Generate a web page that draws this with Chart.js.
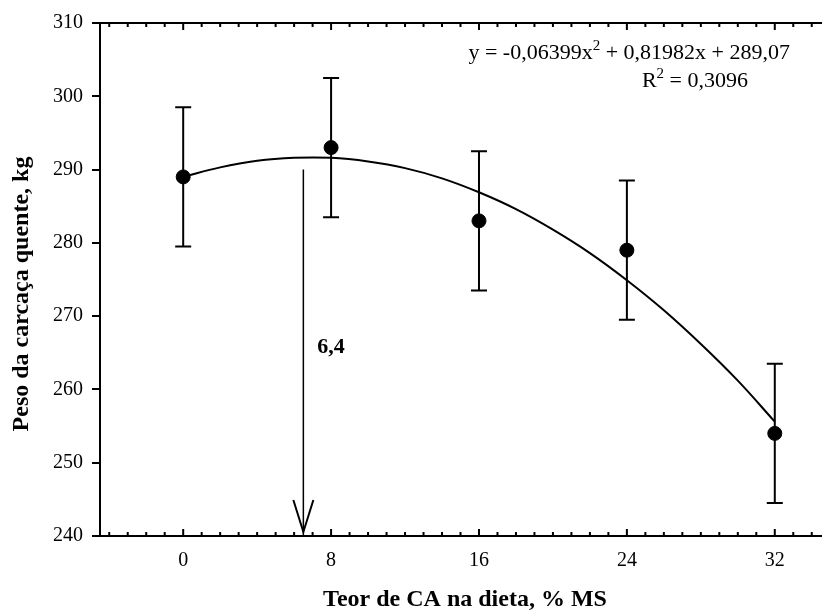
<!DOCTYPE html>
<html>
<head>
<meta charset="utf-8">
<script src="https://cdn.jsdelivr.net/npm/chart.js@4.4.1/dist/chart.umd.min.js"></script>
<style>
html, body { margin: 0; padding: 0; background: #fff; }
</style>
</head>
<body>
<canvas id="c" width="822" height="614"></canvas>
<script>
// measured means and error bars
const doses = [0, 8, 16, 24, 32];
const weights = [289, 293, 283, 279, 254];
const errors = [9.5, 9.5, 9.5, 9.5, 9.5];

// fitted curve as drawn in the figure
const curveX = [0, 2, 4, 6, 8, 10, 12, 14, 16, 18, 20, 22, 24, 26, 28, 30, 32];
const curveY = [289.0, 290.3, 291.2, 291.6, 291.6, 291.1, 290.2, 288.8, 286.9,
                284.6, 281.8, 278.6, 274.9, 270.8, 266.2, 261.2, 255.6];

// axes
const xTickValues = [-4, -3, -2, -1, 0, 1, 2, 3, 4, 5, 6, 7, 8, 9, 10, 11, 12,
                     13, 14, 15, 16, 17, 18, 19, 20, 21, 22, 23, 24, 25, 26, 27,
                     28, 29, 30, 31, 32, 33, 34];
const xLabelValues = [0, 8, 16, 24, 32];
const yTickValues = [240, 250, 260, 270, 280, 290, 300, 310];

// optimum arrow
const optimumX = 6.5;
const arrowTop = 290;
const optimumLabel = "6,4";

const serif = "'Liberation Serif', 'Times New Roman', serif";

function drawSup(ctx, parts, right, baseline) {
    const big = "22px " + serif;
    const small = "15px " + serif;
    let total = 0;
    parts.forEach(p => {
        ctx.font = p[1] ? small : big;
        total += ctx.measureText(p[0]).width;
    });
    let x = right - total;
    ctx.textAlign = "left";
    ctx.textBaseline = "alphabetic";
    parts.forEach(p => {
        ctx.font = p[1] ? small : big;
        ctx.fillText(p[0], x, p[1] ? baseline - 9 : baseline);
        x += ctx.measureText(p[0]).width;
    });
}

const errorBars = {
    id: "errorBars",
    beforeDatasetsDraw(chart) {
        const ctx = chart.ctx;
        const xs = chart.scales.x;
        const ys = chart.scales.y;
        ctx.save();
        ctx.strokeStyle = "#000";
        ctx.lineWidth = 2;
        doses.forEach((d, i) => {
            const px = xs.getPixelForValue(d);
            const hi = ys.getPixelForValue(weights[i] + errors[i]);
            const lo = ys.getPixelForValue(weights[i] - errors[i]);
            ctx.beginPath();
            ctx.moveTo(px, hi); ctx.lineTo(px, lo);
            ctx.moveTo(px - 8, hi); ctx.lineTo(px + 8, hi);
            ctx.moveTo(px - 8, lo); ctx.lineTo(px + 8, lo);
            ctx.stroke();
        });
        ctx.restore();
    }
};

const frame = {
    id: "frame",
    afterDatasetsDraw(chart) {
        const ctx = chart.ctx;
        const area = chart.chartArea;
        const xs = chart.scales.x;
        ctx.save();
        ctx.strokeStyle = "#000";

        // top border
        ctx.lineWidth = 2;
        ctx.beginPath();
        ctx.moveTo(area.left, area.top);
        ctx.lineTo(area.right + 1, area.top);
        ctx.stroke();

        // inward ticks, bottom and top
        xTickValues.forEach(v => {
            const px = xs.getPixelForValue(v);
            const len = xLabelValues.includes(v) ? 7 : 4;
            ctx.beginPath();
            ctx.moveTo(px, area.bottom); ctx.lineTo(px, area.bottom - len);
            ctx.moveTo(px, area.top); ctx.lineTo(px, area.top + len);
            ctx.stroke();
        });

        // arrow head
        const ax = xs.getPixelForValue(optimumX);
        const ay = chart.scales.y.getPixelForValue(240);
        ctx.lineWidth = 2;
        ctx.beginPath();
        ctx.moveTo(ax - 10, ay - 36); ctx.lineTo(ax, ay - 4);
        ctx.lineTo(ax + 10, ay - 36);
        ctx.stroke();

        ctx.fillStyle = "#000";
        ctx.font = "bold 22px " + serif;
        ctx.textAlign = "left";
        ctx.textBaseline = "middle";
        ctx.fillText(optimumLabel, ax + 14, 347);

        // equation
        drawSup(ctx, [["y = -0,06399x", false], ["2", true], [" + 0,81982x + 289,07", false]],
                area.right - 31, area.top + 36);
        drawSup(ctx, [["R", false], ["2", true], [" = 0,3096", false]],
                area.right - 73, area.top + 64);

        // axis titles
        ctx.font = "bold 24px " + serif;
        ctx.textAlign = "center";
        ctx.textBaseline = "middle";
        ctx.fillText("Teor de CA na dieta, % MS", 465, 600);
        ctx.translate(22, 294);
        ctx.rotate(-Math.PI / 2);
        ctx.fillText("Peso da carcaça quente, kg", 0, 0);
        ctx.restore();
    }
};

new Chart(document.getElementById("c"), {
    data: {
        datasets: [
            {
                type: "line",
                data: curveX.map((x, i) => ({ x: x, y: curveY[i] })),
                borderColor: "#000",
                borderWidth: 2,
                pointRadius: 0,
                tension: 0.4,
                fill: false
            },
            {
                type: "line",
                data: [{ x: optimumX, y: arrowTop }, { x: optimumX, y: 240 }],
                borderColor: "#000",
                borderWidth: 1.5,
                pointRadius: 0,
                fill: false
            },
            {
                type: "scatter",
                data: doses.map((d, i) => ({ x: d, y: weights[i] })),
                pointRadius: 7,
                pointHoverRadius: 7,
                backgroundColor: "#000",
                borderColor: "#000"
            }
        ]
    },
    options: {
        responsive: false,
        animation: false,
        devicePixelRatio: 1,
        layout: {
            autoPadding: false,
            padding: { top: 23, right: 1, left: 0, bottom: 0 }
        },
        plugins: {
            legend: { display: false },
            tooltip: { enabled: false }
        },
        scales: {
            x: {
                type: "linear",
                min: -4.5,
                max: 34.5,
                afterBuildTicks: s => { s.ticks = xTickValues.map(v => ({ value: v })); },
                afterFit: s => { s.height = 78; },
                ticks: {
                    autoSkip: false,
                    maxRotation: 0,
                    color: "#000",
                    padding: 5,
                    font: { family: serif, size: 20 },
                    callback: v => xLabelValues.includes(v) ? String(v) : ""
                },
                grid: { display: false },
                border: { display: true, color: "#000", width: 2 }
            },
            y: {
                type: "linear",
                min: 240,
                max: 310,
                afterBuildTicks: s => { s.ticks = yTickValues.map(v => ({ value: v })); },
                afterFit: s => { s.width = 100; },
                ticks: {
                    color: "#000",
                    padding: 9,
                    font: { family: serif, size: 20 }
                },
                grid: {
                    drawOnChartArea: false,
                    drawTicks: true,
                    tickLength: 8,
                    color: "#000",
                    lineWidth: 2
                },
                border: { display: true, color: "#000", width: 2 }
            }
        }
    },
    plugins: [errorBars, frame]
});
</script>
</body>
</html>
